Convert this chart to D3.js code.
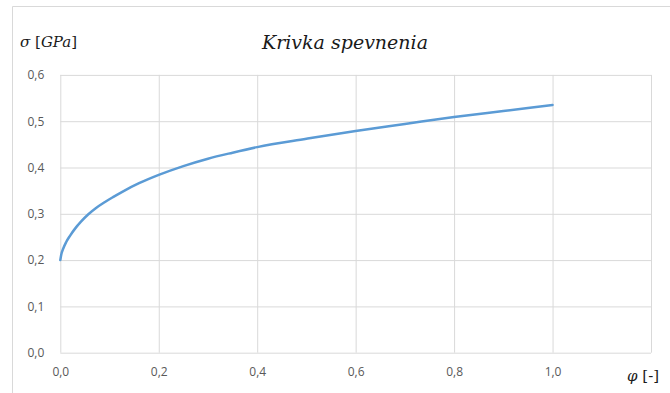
<!DOCTYPE html>
<html>
<head>
<meta charset="utf-8">
<script src="https://cdn.jsdelivr.net/npm/d3@7"></script>
<style>
  html, body { margin: 0; padding: 0; background: #fff; }
  svg { display: block; }
</style>
</head>
<body>
<svg id="chart" width="670" height="393"></svg>
<script>
// Hardening curve: true strain φ [-] vs. flow stress σ [GPa]
const phi   = [0, 0.002, 0.006, 0.012, 0.02, 0.03, 0.042, 0.057, 0.072, 0.09, 0.107, 0.125, 0.16, 0.2, 0.25, 0.3, 0.35, 0.4, 0.5, 0.6, 0.7, 0.8, 0.9, 1.0];
const sigma = [0.200, 0.212, 0.225, 0.239, 0.253, 0.268, 0.283, 0.299, 0.312, 0.325, 0.336, 0.347, 0.366, 0.384, 0.403, 0.419, 0.432, 0.444, 0.462, 0.479, 0.494, 0.509, 0.522, 0.535];

const xTicks = [0, 0.2, 0.4, 0.6, 0.8, 1.0];
const xGrid  = [0, 0.2, 0.4, 0.6, 0.8, 1.0, 1.2];
const yTicks = [0, 0.1, 0.2, 0.3, 0.4, 0.5, 0.6];

const titleText = "Krivka spevnenia";

const svg = d3.select("#chart");
const plot = { left: 60.3, right: 651, top: 74.9, bottom: 352.7 };

const x = d3.scaleLinear().domain([0, 1.2]).range([plot.left, plot.right]);
const y = d3.scaleLinear().domain([0, 0.6]).range([plot.bottom, plot.top]);

const fmt = v => d3.format(".1f")(v).replace(".", ",");
const gridColor = "#d9d9d9";
const labelColor = "#595959";
const labelFont = "'Open Sans', 'Noto Sans', sans-serif";
const serif = "'DejaVu Serif', 'Liberation Serif', serif";

// frame around the chart area
svg.append("path")
  .attr("d", "M12.5,393 V6.5 H670")
  .attr("fill", "none")
  .attr("stroke", gridColor)
  .attr("stroke-width", 1);

// horizontal gridlines + y labels
const yAxis = d3.axisLeft(y).tickValues(yTicks).tickFormat(fmt)
  .tickSize(-(plot.right - plot.left)).tickPadding(16);
const gy = svg.append("g").attr("transform", `translate(${plot.left},0)`).call(yAxis);
gy.select(".domain").remove();
gy.selectAll(".tick line").attr("stroke", gridColor);
gy.selectAll(".tick text")
  .attr("fill", labelColor)
  .style("font-family", labelFont)
  .style("font-size", "12px");

// vertical gridlines
const gxGrid = svg.append("g").attr("transform", `translate(0,${plot.bottom})`)
  .call(d3.axisBottom(x).tickValues(xGrid).tickFormat("").tickSize(-(plot.bottom - plot.top)));
gxGrid.select(".domain").remove();
gxGrid.selectAll(".tick line").attr("stroke", gridColor);

// x labels
const gx = svg.append("g").attr("transform", `translate(0,${plot.bottom})`)
  .call(d3.axisBottom(x).tickValues(xTicks).tickFormat(fmt).tickSize(0).tickPadding(15));
gx.select(".domain").remove();
gx.selectAll(".tick text")
  .attr("fill", labelColor)
  .style("font-family", labelFont)
  .style("font-size", "12px");

// curve
const pts = phi.map((p, i) => [p, sigma[i]]);
svg.append("path")
  .datum(pts)
  .attr("fill", "none")
  .attr("stroke", "#5b9bd5")
  .attr("stroke-width", 2.5)
  .attr("stroke-linecap", "round")
  .attr("d", d3.line().x(d => x(d[0])).y(d => y(d[1])).curve(d3.curveMonotoneX));

// titles
svg.append("text")
  .attr("x", 345).attr("y", 49)
  .attr("text-anchor", "middle")
  .style("font-family", serif)
  .style("font-style", "italic")
  .style("font-size", "19px")
  .attr("fill", "#1a1a1a")
  .text(titleText);

const yt = svg.append("text")
  .attr("x", 20).attr("y", 47)
  .style("font-family", serif)
  .style("font-size", "15px")
  .attr("fill", "#1a1a1a");
yt.append("tspan").style("font-style", "italic").text("σ");
yt.append("tspan").text(" [");
yt.append("tspan").style("font-style", "italic").text("GPa");
yt.append("tspan").text("]");

const xt = svg.append("text")
  .attr("x", 627).attr("y", 381)
  .style("font-family", serif)
  .style("font-size", "15px")
  .attr("fill", "#1a1a1a");
xt.append("tspan").style("font-style", "italic").text("φ");
xt.append("tspan").text(" [-]");
</script>
</body>
</html>
